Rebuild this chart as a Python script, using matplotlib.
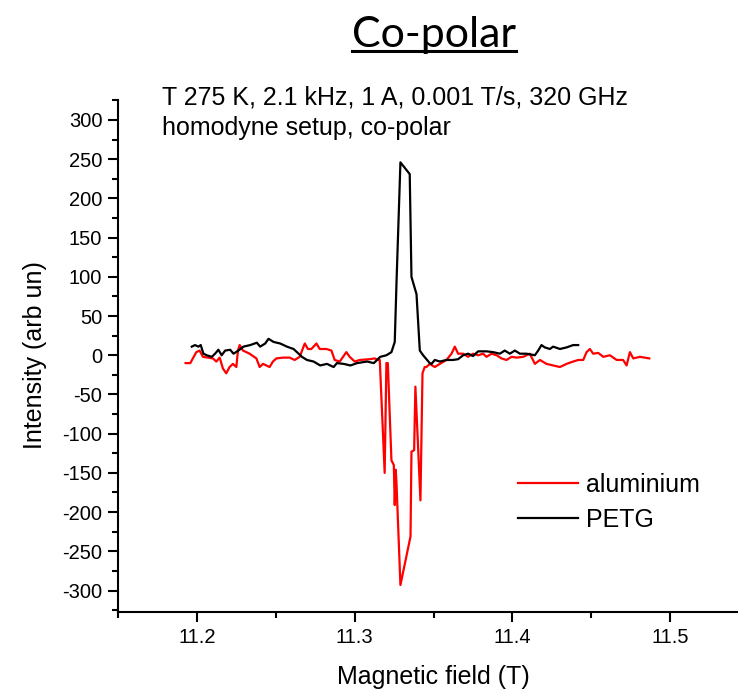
import matplotlib
matplotlib.use("Agg")
import matplotlib.pyplot as plt
from matplotlib.lines import Line2D
from matplotlib.ticker import MultipleLocator

plt.rcParams["axes.unicode_minus"] = False

# Field sweep (T) and lock-in signal (arb. units)
aluminium_field = [
    11.1927, 11.1957, 11.1973, 11.1995, 11.2016, 11.2037, 11.2069, 11.2100, 11.2122, 11.2143,
    11.2164, 11.2185, 11.2206, 11.2227, 11.2249, 11.2259, 11.2270, 11.2291, 11.2333, 11.2376,
    11.2397, 11.2418, 11.2439, 11.2460, 11.2481, 11.2503, 11.2545, 11.2587, 11.2619, 11.2651,
    11.2683, 11.2703, 11.2725, 11.2757, 11.2778, 11.2820, 11.2852, 11.2873, 11.2905, 11.2926,
    11.2947, 11.2968, 11.3000, 11.3032, 11.3095, 11.3127, 11.3148, 11.3159, 11.3190, 11.3201,
    11.3210, 11.3233, 11.3248, 11.3254, 11.3260, 11.3265, 11.3290, 11.3354, 11.3360, 11.3377,
    11.3385, 11.3417, 11.3430, 11.3444, 11.3455, 11.3476, 11.3508, 11.3540, 11.3582, 11.3614,
    11.3635, 11.3656, 11.3688, 11.3719, 11.3751, 11.3783, 11.3815, 11.3836, 11.3868, 11.3900,
    11.3931, 11.3963, 11.3995, 11.4027, 11.4069, 11.4111, 11.4143, 11.4175, 11.4217, 11.4259,
    11.4302, 11.4344, 11.4386, 11.4418, 11.4450, 11.4471, 11.4492, 11.4513, 11.4545, 11.4577,
    11.4619, 11.4662, 11.4703, 11.4725, 11.4746, 11.4767, 11.4810, 11.4869,
]
aluminium_signal = [
    -10, -10, -4, 4, 6, -2, -3, -4, -8, -3,
    -17, -23, -15, -11, -15, 6, 13, 6, 2, -4,
    -15, -11, -13, -15, -8, -4, -3, -3, -6, -2,
    15, 8, 8, 15, 8, 8, 6, -6, -8, -2,
    4, -2, -8, -6, -5, -4, -6, -6, -150, -10,
    -10, -134, -140, -191, -146, -163, -293, -231, -123, -121,
    -40, -185, -23, -15, -15, -11, -15, -11, -6, 2,
    11, 2, 2, -2, 2, 0, 2, -2, 2, 0,
    -4, -6, -2, -3, -2, 2, -11, -6, -11, -13,
    -15, -11, -8, -6, -6, 4, 8, 2, 3, -2,
    0, -6, -6, -13, 4, -4, -2, -4,
]

petg_field = [
    11.1966, 11.1987, 11.2008, 11.2023, 11.2040, 11.2061, 11.2093, 11.2114, 11.2135, 11.2156,
    11.2178, 11.2210, 11.2231, 11.2262, 11.2294, 11.2337, 11.2379, 11.2400, 11.2432, 11.2453,
    11.2485, 11.2527, 11.2570, 11.2612, 11.2644, 11.2665, 11.2697, 11.2739, 11.2781, 11.2824,
    11.2866, 11.2887, 11.2930, 11.2973, 11.3015, 11.3078, 11.3121, 11.3162, 11.3201, 11.3233,
    11.3254, 11.3265, 11.3290, 11.3349, 11.3360, 11.3392, 11.3413, 11.3434, 11.3476, 11.3487,
    11.3508, 11.3540, 11.3582, 11.3624, 11.3656, 11.3688, 11.3719, 11.3751, 11.3783, 11.3836,
    11.3878, 11.3921, 11.3952, 11.3984, 11.4016, 11.4048, 11.4090, 11.4143, 11.4164, 11.4185,
    11.4206, 11.4238, 11.4259, 11.4302, 11.4344, 11.4386, 11.4418,
]
petg_signal = [
    11, 13, 11, 13, 2, 0, -2, 2, 7, 0,
    6, 7, 2, 6, 11, 13, 16, 11, 15, 21,
    17, 15, 11, 8, 2, -2, -6, -8, -13, -11,
    -15, -10, -11, -13, -10, -8, -10, -2, 0, 4,
    17, 92, 246, 231, 100, 78, 6, 0, -10, -11,
    -6, -8, -6, -6, -5, 0, 2, -1, 5, 5,
    4, 2, 6, 2, 6, 2, 2, 0, 6, 13,
    10, 8, 11, 8, 10, 13, 13,
]

series_labels = ["aluminium", "PETG"]
series_colors = ["#ff0000", "#000000"]

x_limits = (11.15, 11.55)
y_limits = (-327, 325.5)

W, H = 738, 691
fig = plt.figure(figsize=(W / 100, H / 100), dpi=100)
ax = fig.add_axes([118.3 / W, 1 - 611.7 / H, 630.45 / W, 511.7 / H])

ax.plot(aluminium_field, aluminium_signal, color=series_colors[0], lw=1.6,
        label=series_labels[0])
ax.plot(petg_field, petg_signal, color=series_colors[1], lw=1.6,
        label=series_labels[1])

ax.set_xlim(*x_limits)
ax.set_ylim(*y_limits)

for side in ("top", "right"):
    ax.spines[side].set_visible(False)
for side in ("left", "bottom"):
    ax.spines[side].set_linewidth(1.5)

ax.xaxis.set_major_locator(MultipleLocator(0.1))
ax.xaxis.set_minor_locator(MultipleLocator(0.05))
ax.yaxis.set_major_locator(MultipleLocator(50))
ax.yaxis.set_minor_locator(MultipleLocator(25))
ax.xaxis.set_major_formatter(plt.FuncFormatter(lambda v, p: f"{v:.1f}"))

font = "Liberation Sans"
ax.tick_params(axis="both", which="major", direction="out", width=1.5,
               labelsize=14.5, length=7, pad=4.5)
ax.tick_params(axis="both", which="minor", direction="out", width=1.5, length=4)
for lab in ax.get_xticklabels() + ax.get_yticklabels():
    lab.set_fontfamily(font)

fig.text(35 / W, 1 - 355 / H, "Intensity (arb un)", rotation=90, ha="center",
         va="center", fontsize=18, family=font)
fig.text(433 / W, 1 - 677 / H, "Magnetic field (T)", ha="center", va="center",
         fontsize=18, family=font)

fig.text(161.7 / W, 1 - 105 / H, "T 275 K, 2.1 kHz, 1 A, 0.001 T/s, 320 GHz",
         ha="left", va="baseline", fontsize=18, family=font)
fig.text(161.7 / W, 1 - 135 / H, "homodyne setup, co-polar",
         ha="left", va="baseline", fontsize=18, family=font)

leg = ax.legend(loc="center left", bbox_to_anchor=(0.634, 0.214), frameon=False,
                prop={"family": font, "size": 18}, handlelength=2.4,
                handletextpad=0.3, labelspacing=0.45, borderpad=0,
                borderaxespad=0)

title = fig.text(434 / W, 1 - 47 / H, "Co-polar", ha="center", va="baseline",
                 fontsize=31, family="Lato")

# underline the heading
fig.canvas.draw()
bb = title.get_window_extent(fig.canvas.get_renderer())
fig.add_artist(Line2D([bb.x0 / W, bb.x1 / W], [(1 - 51 / H), (1 - 51 / H)],
                      transform=fig.transFigure, color="black", lw=2.2))

fig.savefig("out.png", dpi=100)
